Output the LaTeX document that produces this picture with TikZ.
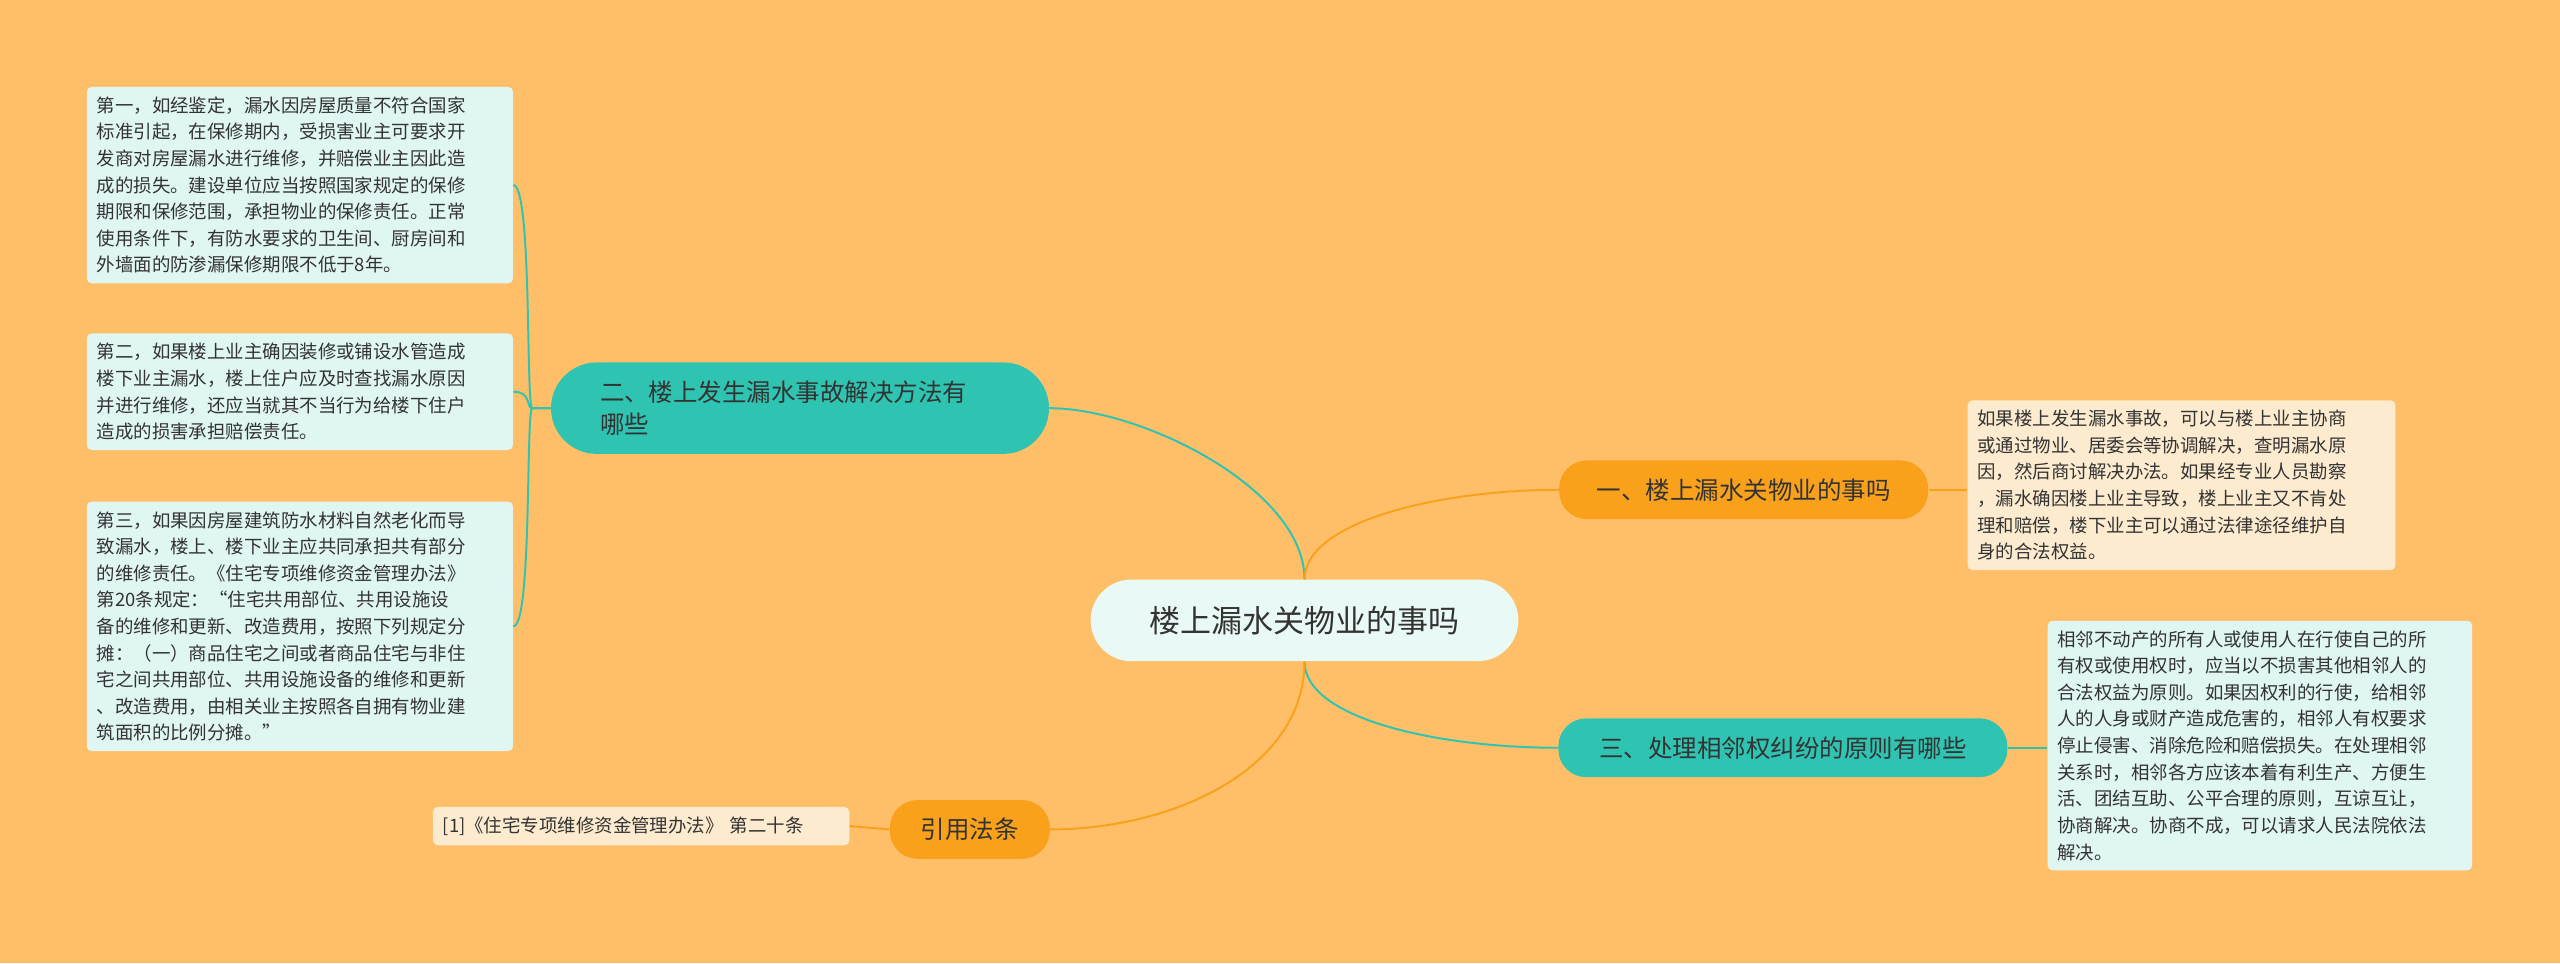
\documentclass[tikz,border=0pt]{standalone}
\usepackage{fontspec}
\setmainfont{Noto Sans CJK SC}
\definecolor{bg}{HTML}{FFBF69}
\definecolor{teal}{HTML}{2FC4B2}
\definecolor{org}{HTML}{F9A11B}
\definecolor{lcy}{HTML}{E0F6F2}
\definecolor{crm}{HTML}{FDEBCF}
\definecolor{txt}{HTML}{333333}
\begin{document}
\begin{tikzpicture}[x=1pt,y=-1pt,
 leaf/.style={fill=lcy,rounded corners=3pt,inner sep=6pt,align=left,anchor=north west,font=\fontsize{11.3}{16.3}\selectfont,text=txt},
 cleaf/.style={leaf,fill=crm},
 mainnode/.style={rounded corners=17pt,minimum height=36pt,font=\fontsize{15}{20}\selectfont,text=txt},
 tl/.style={teal,line width=1.2pt},
 ol/.style={org,line width=1.2pt}]
\fill[bg] (0,0) rectangle (1568,590);
\useasboundingbox (0,0) rectangle (1568,590);
\node[fill=lcy!70!white,rounded corners=25pt,minimum width=262pt,minimum height=50pt,font=\fontsize{19}{24}\selectfont,text=txt] (c) at (799,380) {楼上漏水关物业的事吗};
\node[mainnode,fill=teal,minimum width=305pt,minimum height=56pt,rounded corners=28pt,align=left,text width=245pt] (n2) at (490,250) {二、楼上发生漏水事故解决方法有\\哪些};
\node[mainnode,fill=org,minimum width=226pt] (n1) at (1068,300) {一、楼上漏水关物业的事吗};
\node[mainnode,fill=teal,minimum width=275pt] (n3) at (1092,458) {三、处理相邻权纠纷的原则有哪些};
\node[mainnode,fill=org,minimum width=98pt] (n4) at (594,508) {引用法条};
\node[leaf,text width=249pt] (b1) at (53,53) {第一，如经鉴定，漏水因房屋质量不符合国家\\标准引起，在保修期内，受损害业主可要求开\\发商对房屋漏水进行维修，并赔偿业主因此造\\成的损失。建设单位应当按照国家规定的保修\\期限和保修范围，承担物业的保修责任。正常\\使用条件下，有防水要求的卫生间、厨房间和\\外墙面的防渗漏保修期限不低于8年。};
\node[leaf,text width=249pt] (b2) at (53,204) {第二，如果楼上业主确因装修或铺设水管造成\\楼下业主漏水，楼上住户应及时查找漏水原因\\并进行维修，还应当就其不当行为给楼下住户\\造成的损害承担赔偿责任。};
\node[leaf,text width=249pt] (b3) at (53,307) {第三，如果因房屋建筑防水材料自然老化而导\\致漏水，楼上、楼下业主应共同承担共有部分\\的维修责任。《住宅专项维修资金管理办法》\\第20条规定：“住宅共用部位、共用设施设\\备的维修和更新、改造费用，按照下列规定分\\摊：（一）商品住宅之间或者商品住宅与非住\\宅之间共用部位、共用设施设备的维修和更新\\、改造费用，由相关业主按照各自拥有物业建\\筑面积的比例分摊。”};
\node[cleaf,text width=243pt,inner sep=6pt] (r) at (265,494) {[1]《住宅专项维修资金管理办法》 第二十条};
\node[cleaf,text width=250pt] (a1) at (1205,245) {如果楼上发生漏水事故，可以与楼上业主协商\\或通过物业、居委会等协调解决，查明漏水原\\因，然后商讨解决办法。如果经专业人员勘察\\，漏水确因楼上业主导致，楼上业主又不肯处\\理和赔偿，楼下业主可以通过法律途径维护自\\身的合法权益。};
\node[leaf,text width=248pt] (a3) at (1254,380) {相邻不动产的所有人或使用人在行使自己的所\\有权或使用权时，应当以不损害其他相邻人的\\合法权益为原则。如果因权利的行使，给相邻\\人的人身或财产造成危害的，相邻人有权要求\\停止侵害、消除危险和赔偿损失。在处理相邻\\关系时，相邻各方应该本着有利生产、方便生\\活、团结互助、公平合理的原则，互谅互让，\\协商解决。协商不成，可以请求人民法院依法\\解决。};
\draw[tl] (c.north) .. controls (799,300) and (700,250) .. (n2.east);
\draw[ol] (c.north) .. controls (799,320) and (880,300) .. (n1.west);
\draw[tl] (c.south) .. controls (799,440) and (880,458) .. (n3.west);
\draw[ol] (c.south) .. controls (799,470) and (720,508) .. (n4.east);
\foreach \b in {b1,b2,b3}{\draw[tl] (n2.west) -- (326,250) .. controls (322,250) and (326,0|-\b.east) .. (\b.east);}
\draw[ol] (n1.east) -- (a1.west|-n1.east);
\draw[tl] (n3.east) -- (a3.west|-n3.east);
\draw[ol] (n4.west) -- (r.east);
\end{tikzpicture}
\end{document}
